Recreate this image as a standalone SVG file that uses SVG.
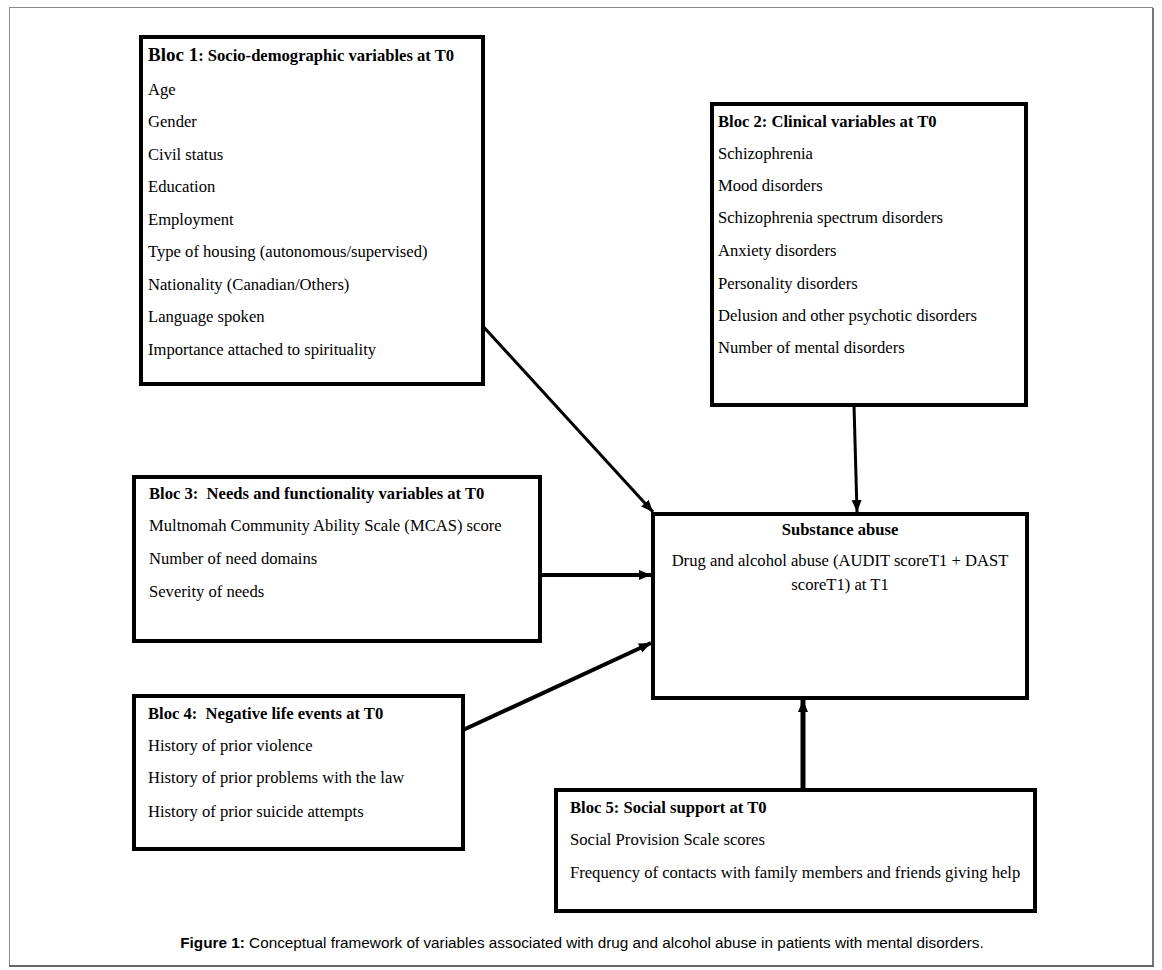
<svg xmlns="http://www.w3.org/2000/svg" width="1162" height="970" viewBox="0 0 1162 970">
<style>
.box{fill:#fff;stroke:#000;stroke-width:4}
.t{font-family:"Liberation Serif","Times New Roman",serif;font-size:16.6px;fill:#000}
.b{font-weight:bold}
.big{font-size:19px}
.cap{font-family:"Liberation Sans",Arial,sans-serif;font-size:15.3px;fill:#000}
.c{stroke:#000;fill:none}
</style>
<defs>
<marker id="ah" markerUnits="userSpaceOnUse" markerWidth="14" markerHeight="12" refX="12" refY="6" orient="auto">
<path d="M0,1 L12,6 L0,11 Z" fill="#000"/>
</marker>
</defs>
<rect x="0" y="0" width="1162" height="970" fill="#fff"/>
<rect x="9.5" y="7.5" width="1143" height="958" fill="none" stroke="#888" stroke-width="1"/>
<line x1="1153" y1="8" x2="1153" y2="967" stroke="#777" stroke-width="2"/>
<line x1="9" y1="966" x2="1154" y2="966" stroke="#666" stroke-width="2"/>

<g id="connectors">
<line class="c" x1="480" y1="323" x2="653" y2="512" stroke-width="3" marker-end="url(#ah)"/>
<line class="c" x1="854" y1="405" x2="857" y2="512" stroke-width="3" marker-end="url(#ah)"/>
<line class="c" x1="540" y1="575" x2="651" y2="575" stroke-width="4" marker-end="url(#ah)"/>
<line class="c" x1="463" y1="730" x2="651" y2="643" stroke-width="4" marker-end="url(#ah)"/>
<line class="c" x1="803" y1="790" x2="803" y2="700" stroke-width="5" marker-end="url(#ah)"/>
</g>

<g id="bloc1">
<rect class="box" x="141" y="37" width="342" height="347"/>
<text class="t b" x="148" y="61"><tspan class="big">Bloc 1</tspan>: Socio-demographic variables at T0</text>
<text class="t" x="148" y="95">Age</text>
<text class="t" x="148" y="127">Gender</text>
<text class="t" x="148" y="160">Civil status</text>
<text class="t" x="148" y="192">Education</text>
<text class="t" x="148" y="225">Employment</text>
<text class="t" x="148" y="257">Type of housing (autonomous/supervised)</text>
<text class="t" x="148" y="290">Nationality (Canadian/Others)</text>
<text class="t" x="148" y="322">Language spoken</text>
<text class="t" x="148" y="355">Importance attached to spirituality</text>
</g>

<g id="bloc2">
<rect class="box" x="712" y="104" width="314" height="301"/>
<text class="t b" x="718" y="127">Bloc 2: Clinical variables at T0</text>
<text class="t" x="718" y="159">Schizophrenia</text>
<text class="t" x="718" y="191">Mood disorders</text>
<text class="t" x="718" y="223">Schizophrenia spectrum disorders</text>
<text class="t" x="718" y="256">Anxiety disorders</text>
<text class="t" x="718" y="289">Personality disorders</text>
<text class="t" x="718" y="321">Delusion and other psychotic disorders</text>
<text class="t" x="718" y="353">Number of mental disorders</text>
</g>

<g id="bloc3">
<rect class="box" x="134" y="477" width="406" height="164"/>
<text class="t b" x="149" y="499" xml:space="preserve">Bloc 3:  Needs and functionality variables at T0</text>
<text class="t" x="149" y="531">Multnomah Community Ability Scale (MCAS) score</text>
<text class="t" x="149" y="564">Number of need domains</text>
<text class="t" x="149" y="597">Severity of needs</text>
</g>

<g id="bloc4">
<rect class="box" x="134" y="696" width="329" height="153"/>
<text class="t b" x="148" y="719" xml:space="preserve">Bloc 4:  Negative life events at T0</text>
<text class="t" x="148" y="751">History of prior violence</text>
<text class="t" x="148" y="783">History of prior problems with the law</text>
<text class="t" x="148" y="817">History of prior suicide attempts</text>
</g>

<g id="bloc5">
<rect class="box" x="556" y="790" width="479" height="121"/>
<text class="t b" x="570" y="813">Bloc 5: Social support at T0</text>
<text class="t" x="570" y="845">Social Provision Scale scores</text>
<text class="t" x="570" y="878">Frequency of contacts with family members and friends giving help</text>
</g>

<g id="substance">
<rect class="box" x="653" y="514" width="374" height="184"/>
<text class="t b" x="840" y="535" text-anchor="middle">Substance abuse</text>
<text class="t" x="840" y="566" text-anchor="middle">Drug and alcohol abuse (AUDIT scoreT1 + DAST</text>
<text class="t" x="840" y="590" text-anchor="middle">scoreT1) at T1</text>
</g>

<text class="cap" x="582" y="948" text-anchor="middle"><tspan font-weight="bold">Figure 1:</tspan> Conceptual framework of variables associated with drug and alcohol abuse in patients with mental disorders.</text>
</svg>
